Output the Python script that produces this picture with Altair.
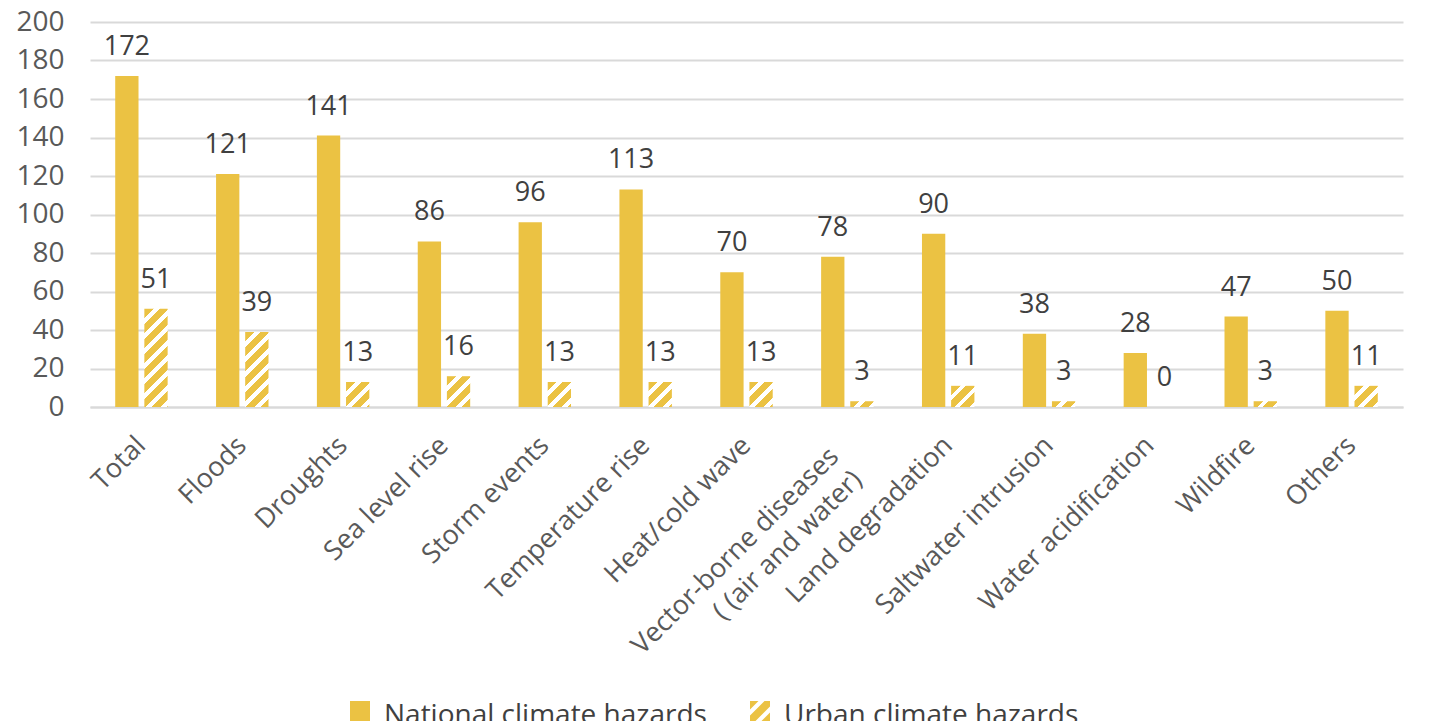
import altair as alt
import pandas as pd

categories = ["Total", "Floods", "Droughts", "Sea level rise", "Storm events",
              "Temperature rise", "Heat/cold wave",
              "Vector-borne diseases\n( (air and water)", "Land degradation",
              "Saltwater intrusion", "Water acidification", "Wildfire", "Others"]
national = [172, 121, 141, 86, 96, 113, 70, 78, 90, 38, 28, 47, 50]
urban = [51, 39, 13, 16, 13, 13, 13, 3, 11, 3, 0, 3, 11]
series_names = ["National climate hazards", "Urban climate hazards"]
y_ticks = [0, 20, 40, 60, 80, 100, 120, 140, 160, 180, 200]

GOLD = "#EBC243"
WHITE = "#FFFFFF"
FONT = "Open Sans"
PLOT_W = 1313
PLOT_H = 385
Y_MAX = 200
X_PAD_INNER = 0.48
X_PAD_OUTER = 0.25
OFF_PAD = 0.2

step = PLOT_W / (len(categories) - X_PAD_INNER + 2 * X_PAD_OUTER)
band = step * (1 - X_PAD_INNER)
bar_w = band * (1 - OFF_PAD) / (2 - OFF_PAD)
px_per_unit = PLOT_H / Y_MAX


def hatch(w, h, period=15.0, white_frac=0.38):
    L = w + h
    c = L / (w * w + h * h)
    stops = []
    pos = 0.0
    while pos < L:
        g_end = pos + (1 - white_frac) * period
        w_end = pos + period
        stops.append((pos, GOLD))
        stops.append((min(g_end, L), GOLD))
        if g_end < L:
            stops.append((g_end, WHITE))
            stops.append((min(w_end, L), WHITE))
        pos = w_end
    return {"gradient": "linear", "x1": 0, "y1": 0, "x2": w * c, "y2": h * c,
            "stops": [{"offset": round(o / L, 5), "color": col} for o, col in stops]}


def clip(poly, a, sign):
    out = []
    n = len(poly)
    for k in range(n):
        p, q = poly[k], poly[(k + 1) % n]
        fp = sign * (p[0] + p[1] - a)
        fq = sign * (q[0] + q[1] - a)
        if fp >= 0:
            out.append(p)
        if (fp >= 0) != (fq >= 0):
            t = fp / (fp - fq)
            out.append((p[0] + t * (q[0] - p[0]), p[1] + t * (q[1] - p[1])))
    return out


SYM_SHIFT = -0.5


def path_of(polys):
    return "".join("M" + "L".join(f"{x:.3f},{y + SYM_SHIFT:.3f}" for x, y in poly) + "Z"
                   for poly in polys)


def hatch_symbol(bands):
    sq = [(-1, -1), (1, -1), (1, 1), (-1, 1)]
    polys = []
    for a, b in bands:
        poly = clip(clip(sq, a, 1), b, -1)
        if len(poly) >= 3:
            polys.append(poly)
    return path_of(polys)


square_path = path_of([[(-1, -1), (1, -1), (1, 1), (-1, 1)]])
legend_hatch_path = hatch_symbol([(-2.0, -1.15), (-0.55, 0.55), (1.15, 2.0)])

rows = []
for i, cat in enumerate(categories):
    rows.append({"category": cat, "idx": i, "series": series_names[0], "value": national[i]})
    rows.append({"category": cat, "idx": i, "series": series_names[1], "value": urban[i]})
df = pd.DataFrame(rows)

conditions = []
for i, v in enumerate(urban):
    if v > 0:
        conditions.append({
            "test": f"datum.series === '{series_names[1]}' && datum.idx === {i}",
            "value": hatch(bar_w, v * px_per_unit),
        })

VB_TEST = "indexof(datum.value, 'Vector') === 0"

x_enc = alt.X("category:N", sort=categories,
              scale=alt.Scale(paddingInner=X_PAD_INNER, paddingOuter=X_PAD_OUTER),
              axis=alt.Axis(title=None, labelAngle=-45, labelAlign="right",
                            labelBaseline="middle", labelFontSize=27, labelFont=FONT,
                            labelColor="#595959", ticks=False, domainColor="#d9d9d9",
                            domainWidth=2, grid=False,
                            labelPadding={"condition": {"test": VB_TEST, "value": 45}, "value": 34},
                            labelOffset={"condition": {"test": VB_TEST, "value": -13}, "value": 0},
                            labelExpr="split(datum.label, '\\n')",
                            labelLineHeight=33, labelLimit=500))
xoff_enc = alt.XOffset("series:N", sort=series_names,
                       scale=alt.Scale(paddingInner=OFF_PAD, paddingOuter=0))
y_enc = alt.Y("value:Q", scale=alt.Scale(domain=[0, Y_MAX], nice=False),
              axis=alt.Axis(title=None, values=y_ticks, grid=True, gridColor="#d9d9d9",
                            gridWidth=2, domain=False, ticks=False, labelPadding=26,
                            labelOverlap=False, labelFontSize=28, labelFont=FONT,
                            labelColor="#595959"))

legend_pts = alt.Chart(df).mark_point(filled=True, opacity=0, size=1).encode(
    x=x_enc,
    xOffset=xoff_enc,
    y=y_enc,
    color=alt.value(GOLD),
    shape=alt.Shape(
        "series:N",
        scale=alt.Scale(domain=series_names, range=[square_path, legend_hatch_path]),
        legend=alt.Legend(
            title=None, orient="none", legendX=256, legendY=680,
            direction="horizontal", symbolSize=400, symbolOpacity=1,
            symbolFillColor=GOLD, symbolStrokeWidth=0, labelFontSize=28,
            labelFont=FONT, labelColor="#404040", columnPadding=39,
            labelOffset=10, padding=0, labelLimit=600,
        ),
    ),
)

bars = alt.Chart(df).mark_bar().encode(
    x=x_enc,
    xOffset=xoff_enc,
    y=y_enc,
    color=alt.ColorValue(GOLD, condition=conditions),
)

labels = alt.Chart(df).mark_text(
    dy=-21, baseline="alphabetic", fontSize=27, font=FONT, color="#404040"
).encode(
    x=x_enc,
    xOffset=xoff_enc,
    y=y_enc,
    text=alt.Text("value:Q"),
)

chart = alt.layer(legend_pts, bars, labels).properties(
    width=PLOT_W, height=PLOT_H,
    autosize=alt.AutoSizeParams(type="none"),
    padding={"left": 82, "top": 14, "right": 20, "bottom": 330},
).configure_view(stroke=None)

chart.save("out.html", embed_options={"renderer": "svg", "actions": False})
